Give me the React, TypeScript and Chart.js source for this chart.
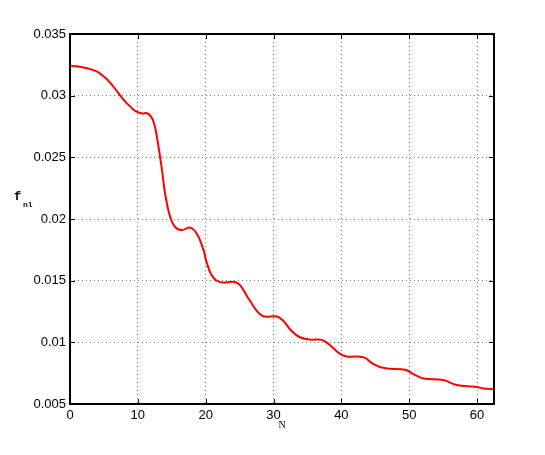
import React, { useEffect, useRef } from "react";
import { Chart, registerables } from "chart.js";

Chart.register(...registerables);

const nValues = [
  0, 1, 2, 3, 4, 5, 6, 7, 8, 9, 9.6, 10.5, 11.5, 12.3, 13, 13.6, 14, 14.75, 15.5, 16.5, 17.7, 18.7,
  19.7, 20.06, 20.9, 22.1, 24.3, 25.1, 26.5, 28.3, 30.5, 31.4, 32.7, 33.9, 35.4, 37.1, 38.1,
  39.8, 40.8, 43.3, 44.7, 46.5, 49.4, 50.6, 52.1, 55.0, 57, 59.7, 61, 62.5,
];
const fValues = [
  0.03242, 0.03238, 0.03228, 0.03215, 0.03195, 0.03155, 0.031, 0.0303, 0.0296, 0.02905, 0.02876,
  0.02857, 0.02855, 0.0279, 0.026, 0.0238, 0.0221, 0.0202, 0.01935, 0.0191, 0.0193, 0.0188,
  0.01746, 0.01664, 0.01542, 0.01488, 0.0149, 0.01461, 0.01339, 0.01217, 0.0121, 0.01177, 0.0109,
  0.01041, 0.01022, 0.0102, 0.00987, 0.00906, 0.00886, 0.00878, 0.00824, 0.00789, 0.00778,
  0.00743, 0.00707, 0.00694, 0.00654, 0.0064, 0.00626, 0.0062,
];
const xTicks = [0, 10, 20, 30, 40, 50, 60];
const yTicks = [0.005, 0.01, 0.015, 0.02, 0.025, 0.03, 0.035];
const yTickLabels = ["0.005", "0.01", "0.015", "0.02", "0.025", "0.03", "0.035"];
const xLabel = "N";
const yLabelMain = "f";
const yLabelSub = "nl";

const boxPlugin = {
  id: "boxPlugin",
  afterDraw(chart: any) {
    const { ctx, chartArea: a, scales } = chart;
    ctx.save();
    ctx.strokeStyle = "#000";
    ctx.lineWidth = 1;
    const tl = 5;
    ctx.beginPath();
    for (const v of xTicks) {
      const px = Math.round(scales.x.getPixelForValue(v)) + 0.5;
      ctx.moveTo(px, a.bottom);
      ctx.lineTo(px, a.bottom - tl);
      ctx.moveTo(px, a.top);
      ctx.lineTo(px, a.top + tl);
    }
    for (const v of yTicks) {
      const py = Math.round(scales.y.getPixelForValue(v)) + 0.5;
      ctx.moveTo(a.left, py);
      ctx.lineTo(a.left + tl, py);
      ctx.moveTo(a.right, py);
      ctx.lineTo(a.right - tl, py);
    }
    ctx.stroke();
    ctx.lineWidth = 2;
    ctx.strokeRect(a.left, a.top, a.right - a.left, a.bottom - a.top);
    ctx.fillStyle = "#000";
    ctx.textBaseline = "alphabetic";
    ctx.textAlign = "center";
    ctx.font = "10px 'Liberation Serif', serif";
    ctx.fillText(xLabel, (a.left + a.right) / 2, 428);
    ctx.textAlign = "left";
    ctx.font = "bold 12px 'Liberation Mono', monospace";
    ctx.fillText(yLabelMain, 14, 200);
    ctx.font = "bold 8px 'Liberation Mono', monospace";
    ctx.fillText(yLabelSub, 23, 207);
    ctx.restore();
  },
};

export default function App() {
  const ref = useRef<HTMLCanvasElement | null>(null);
  useEffect(() => {
    if (!ref.current) return;
    const data = nValues.map((n, i) => ({ x: n, y: fValues[i] }));
    const chart = new Chart(ref.current, {
      type: "line",
      data: {
        datasets: [
          {
            data,
            borderColor: "#ff0000",
            borderWidth: 2,
            pointRadius: 0,
            tension: 0.4,
            fill: false,
          },
        ],
      },
      options: {
        animation: false,
        responsive: true,
        maintainAspectRatio: false,
        layout: { padding: { left: 0, top: 34, right: 51, bottom: 0 } },
        plugins: { legend: { display: false }, tooltip: { enabled: false } },
        scales: {
          x: {
            type: "linear",
            min: 0,
            max: 62.5,
            afterFit: (s: any) => {
              s.height = 51;
            },
            afterBuildTicks: (s: any) => {
              s.ticks = xTicks.map((v) => ({ value: v }));
            },
            ticks: {
              color: "#000",
              padding: 4,
              font: { family: "'Liberation Sans', Arial, sans-serif", size: 13 },
              maxRotation: 0,
              callback: (v: any) => String(v),
            },
            grid: { color: "#777", lineWidth: 1, drawTicks: false },
            border: { display: false, dash: [1, 3] },
          },
          y: {
            type: "linear",
            min: 0.005,
            max: 0.035,
            afterFit: (s: any) => {
              s.width = 70;
            },
            afterBuildTicks: (s: any) => {
              s.ticks = yTicks.map((v) => ({ value: v }));
            },
            ticks: {
              color: "#000",
              padding: 4,
              font: { family: "'Liberation Sans', Arial, sans-serif", size: 13 },
              callback: (v: any) => {
                const i = yTicks.findIndex((t) => Math.abs(t - v) < 1e-9);
                return i >= 0 ? yTickLabels[i] : "";
              },
            },
            grid: { color: "#777", lineWidth: 1, drawTicks: false },
            border: { display: false, dash: [1, 3] },
          },
        },
      },
      plugins: [boxPlugin],
    });
    return () => chart.destroy();
  }, []);
  return (
    <div style={{ position: "fixed", left: 0, top: 0, width: 545, height: 455, background: "#fff" }}>
      <canvas ref={ref} />
    </div>
  );
}
